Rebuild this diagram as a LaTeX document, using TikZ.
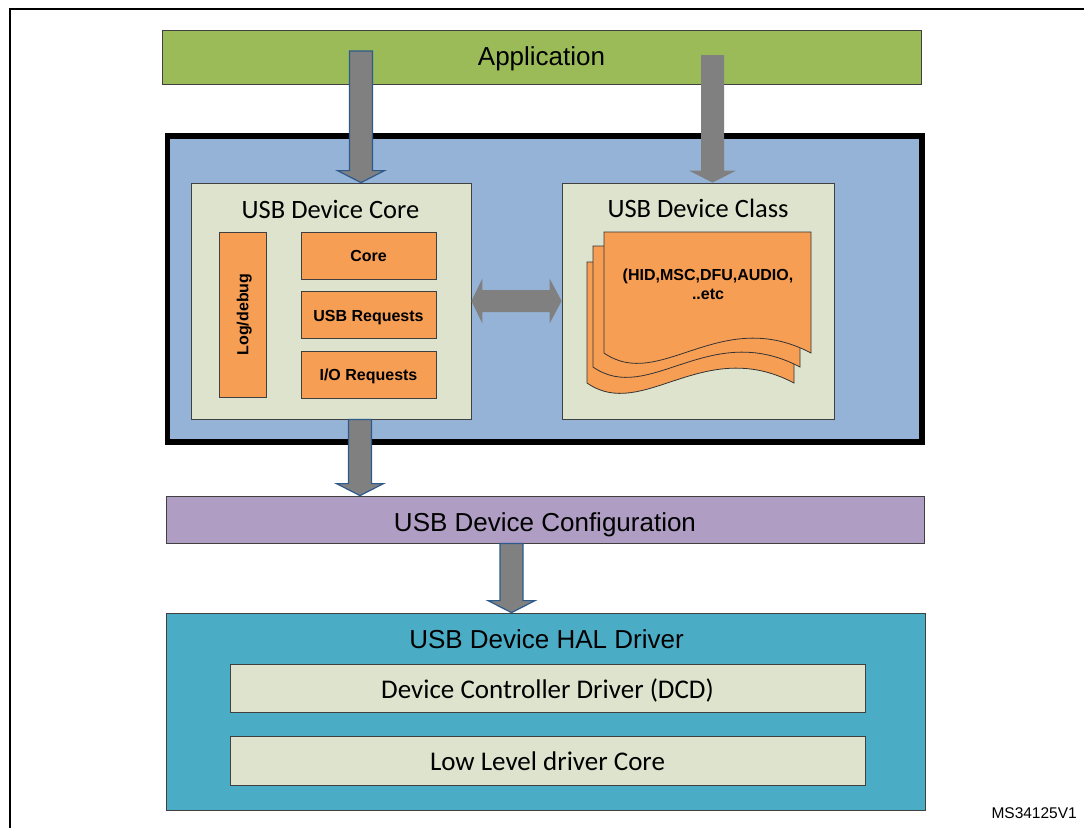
\documentclass[tikz,border=0pt]{standalone}
\usepackage{fontspec}
\setmainfont{Liberation Sans}
\newfontfamily\calibri{Carlito}
\usetikzlibrary{positioning,calc}

\definecolor{appgreen}{HTML}{9BBB59}
\definecolor{mwblue}{HTML}{95B3D7}
\definecolor{paleolive}{HTML}{DDE3CD}
\definecolor{boxorange}{HTML}{F79E55}
\definecolor{cfgpurple}{HTML}{AF9DC3}
\definecolor{halteal}{HTML}{4BACC6}
\definecolor{arrowgray}{HTML}{808080}
\definecolor{arrowrim}{HTML}{2C5A8C}

% fat downward arrow from #2 to the height of #3
\newcommand\blkarrow[3][]{%
  \path[blkarrow,#1] let \p1=(#2), \p2=(#3) in
    (\x1-11.5pt,\y1) -- (\x1+11.5pt,\y1) -- (\x1+11.5pt,\y2+12pt)
    -- (\x1+23.5pt,\y2+12pt) -- (\x1,\y2) -- (\x1-23.5pt,\y2+12pt)
    -- (\x1-11.5pt,\y2+12pt) -- cycle;}

\begin{document}
\begin{tikzpicture}[x=1pt,y=-1pt,
    layer/.style={draw=black!75, line width=0.8pt, inner sep=0pt},
    orangebox/.style={layer, fill=boxorange, minimum width=135pt, minimum height=47pt,
      font=\fontsize{16}{19}\selectfont\bfseries, text height=11.5pt, text depth=0pt},
    boxtitle/.style={anchor=base, inner sep=0pt, font=\calibri\fontsize{26.5}{31}\selectfont},
    blkarrow/.style={fill=arrowgray, line width=1.2pt}]
  \useasboundingbox (0,0) rectangle (1084,828);

  % frame
  \draw[line width=2.5pt] (10,828) -- (10,9) -- (1084,9);

  \node[layer, fill=appgreen, minimum width=759pt, minimum height=54pt,
    font=\fontsize{26}{31}\selectfont, text height=16pt, text depth=0pt] (app) at (541.5,57) {Application};

  % middleware
  \node[layer, fill=mwblue, draw=black, line width=5.5pt, minimum width=754.5pt, minimum height=306pt] (mw) at (544.75,289) {};
  \node[layer, fill=paleolive, minimum width=280pt, minimum height=236pt] (devcore) at (331,301) {};
  \node[layer, fill=paleolive, minimum width=272pt, minimum height=236pt] (devclass) at (698,301) {};
  \node[boxtitle] (coretitle) at (330.5,218) {USB Device Core};
  \node[boxtitle] (classtitle) at (698,217) {USB Device Class};

  \node[orangebox] (core) at (368.5,255.5) {Core};
  \node[orangebox, below=12pt of core] (usbreq) {USB Requests};
  \node[orangebox, below=12pt of usbreq] (ioreq) {I/O Requests};
  \node[orangebox, minimum width=165pt, rotate=90] (logdbg) at (242.5,314.5) {Log/debug};

  \foreach \dx/\dy in {-17/30,-11/14,0/0}
    \filldraw[fill=boxorange, draw=black!80, line width=0.8pt, shift={(\dx,\dy)}]
      (604,232) -- (811,232) -- (811,353) .. controls (720,305) and (660,392) .. (604,353) -- cycle;
  \node[align=center, font=\fontsize{16}{19}\selectfont\bfseries] (classlist) at (708,284) {(HID,MSC,DFU,AUDIO,\\..etc};

  \node[layer, fill=cfgpurple, minimum width=758pt, minimum height=47pt,
    font=\fontsize{26}{31}\selectfont, text height=23pt, text depth=0pt] (devcfg) at (545,519.5) {USB Device Configuration};

  % HAL
  \node[layer, fill=halteal, minimum width=759pt, minimum height=197pt] (hal) at (545.5,711.5) {};
  \node[boxtitle, font=\fontsize{26}{31}\selectfont] (haltitle) at (546.5,648) {USB Device HAL Driver};
  \node[layer, fill=paleolive, minimum width=635pt, minimum height=48.5pt,
    font=\calibri\fontsize{27}{32}\selectfont, text height=19pt, text depth=0pt] (dcd) at (547.5,688.5) {Device Controller Driver (DCD)};
  \node[layer, fill=paleolive, minimum width=635pt, minimum height=48.5pt,
    font=\calibri\fontsize{27}{32}\selectfont, text height=19pt, text depth=0pt, below=23pt of dcd] (lld) {Low Level driver Core};

  % arrows
  \coordinate (appout1) at (361,51);
  \coordinate (appout2) at (712.5,55);
  \coordinate (coreout) at ([xshift=29pt]devcore.south);
  \coordinate (cfgout) at ([xshift=-33.5pt]devcfg.south);
  \blkarrow[draw=arrowrim]{appout1}{appout1 |- devcore.north}
  \blkarrow{appout2}{appout2 |- devclass.north}
  \blkarrow[draw=arrowrim]{coreout}{coreout |- devcfg.north}
  \blkarrow[draw=arrowrim]{cfgout}{cfgout |- hal.north}
  \path[blkarrow] let \p1=(devcore.east), \p2=(devclass.west) in
    (\x1,\y1) -- (\x1+11pt,\y1+22.5pt) -- (\x1+11pt,\y1+11pt) -- (\x2-12pt,\y1+11pt)
    -- (\x2-12pt,\y1+22.5pt) -- (\x2,\y1) -- (\x2-12pt,\y1-22.5pt) -- (\x2-12pt,\y1-11pt)
    -- (\x1+11pt,\y1-11pt) -- (\x1+11pt,\y1-22.5pt) -- cycle;

  \node[anchor=base east, inner sep=0pt, font=\fontsize{15.5}{18}\selectfont] (docid) at (1077,818) {MS34125V1};
\end{tikzpicture}
\end{document}
